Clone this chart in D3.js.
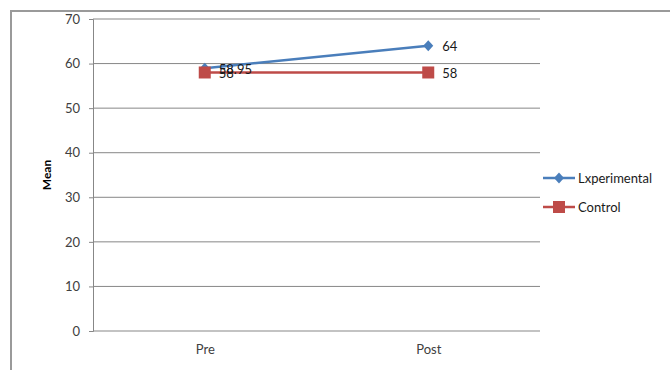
<!DOCTYPE html>
<html lang="en">
<head>
    <meta charset="UTF-8">
    <title>Mean Pre / Post</title>
    <script src="https://d3js.org/d3.v7.min.js"></script>
    <style>
        body { margin: 0; background: #fff; }
        svg { font-family: Lato, "Open Sans", sans-serif; }
    </style>
</head>
<body>
    <svg id="chart" width="670" height="370"></svg>

    <script>
        const categories = ["Pre", "Post"];
        const experimental = [58.95, 64];
        const control = [58, 58];
        const yTicks = [0, 10, 20, 30, 40, 50, 60, 70];
        const seriesNames = ["Lxperimental", "Control"];

        const svg = d3.select("#chart");
        const plot = { left: 93, right: 540, top: 19, bottom: 331 };

        // outer chart border (only left and top visible in the picture)
        svg.append("path")
            .attr("d", "M11,370 V11 H670")
            .attr("fill", "none")
            .attr("stroke", "#9a9a9a")
            .attr("stroke-width", 2);

        const x = d3.scalePoint()
            .domain(categories)
            .range([plot.left, plot.right])
            .padding(0.5);

        const y = d3.scaleLinear()
            .domain([0, 70])
            .range([plot.bottom, plot.top]);

        // gridlines
        svg.append("g")
            .selectAll("line")
            .data(yTicks.filter(t => t > 0))
            .enter().append("line")
            .attr("x1", plot.left)
            .attr("x2", plot.right)
            .attr("y1", d => y(d))
            .attr("y2", d => y(d))
            .attr("stroke", "#878787")
            .attr("stroke-width", 1);

        // y axis
        const yAxis = svg.append("g")
            .attr("transform", `translate(${plot.left},0)`)
            .call(d3.axisLeft(y).tickValues(yTicks).tickSize(4).tickPadding(9));
        yAxis.select(".domain").attr("stroke", "#878787");
        yAxis.selectAll(".tick line").attr("stroke", "#878787");
        yAxis.selectAll("text")
            .attr("font-size", "13px")
            .attr("fill", "#404040")
            .style("font-family", "Lato, 'Open Sans', sans-serif");

        // x axis
        const xAxis = svg.append("g")
            .attr("transform", `translate(0,${plot.bottom})`)
            .call(d3.axisBottom(x).tickSize(0).tickPadding(14));
        xAxis.select(".domain").attr("stroke", "#878787").attr("d", `M${plot.left},0H${plot.right}`);
        xAxis.selectAll("text")
            .attr("font-size", "13px")
            .attr("fill", "#404040")
            .style("font-family", "Lato, 'Open Sans', sans-serif");

        // y axis title
        svg.append("text")
            .attr("transform", `translate(51,${(plot.top + plot.bottom) / 2}) rotate(-90)`)
            .attr("text-anchor", "middle")
            .attr("font-size", "12px")
            .attr("font-weight", "bold")
            .text("Mean");

        const line = d3.line()
            .x((d, i) => x(categories[i]))
            .y(d => y(d));

        const series = [
            { name: seriesNames[0], values: experimental, color: "#4A7EBB", marker: "diamond" },
            { name: seriesNames[1], values: control, color: "#BE4B48", marker: "square" }
        ];

        function drawMarker(g, type, cx, cy, color) {
            if (type === "diamond") {
                g.append("path")
                    .attr("d", `M${cx},${cy - 5.5}L${cx + 5},${cy}L${cx},${cy + 5.5}L${cx - 5},${cy}Z`)
                    .attr("fill", color);
            } else {
                g.append("rect")
                    .attr("x", cx - 6)
                    .attr("y", cy - 6)
                    .attr("width", 12)
                    .attr("height", 12)
                    .attr("fill", color);
            }
        }

        // lines + markers
        series.forEach(s => {
            const g = svg.append("g");
            g.append("path")
                .datum(s.values)
                .attr("d", line)
                .attr("fill", "none")
                .attr("stroke", s.color)
                .attr("stroke-width", 2.5);
            s.values.forEach((v, i) => drawMarker(g, s.marker, x(categories[i]), y(v), s.color));
        });

        // data labels (the two Pre labels sit on top of each other, as in the original)
        series.forEach(s => {
            svg.append("g")
                .selectAll("text")
                .data(s.values)
                .enter().append("text")
                .attr("x", (d, i) => x(categories[i]) + 14)
                .attr("y", d => y(d) + 1)
                .attr("dy", "0.35em")
                .attr("font-size", "13px")
                .attr("fill", "#1a1a1a")
                .text(d => d);
        });

        // legend
        const legend = svg.append("g").attr("transform", "translate(543,178)");
        series.forEach((s, i) => {
            const row = legend.append("g").attr("transform", `translate(0,${i * 29})`);
            row.append("line")
                .attr("x1", 0).attr("x2", 32)
                .attr("y1", 0).attr("y2", 0)
                .attr("stroke", s.color)
                .attr("stroke-width", 2.5);
            drawMarker(row, s.marker, 16, 0, s.color);
            row.append("text")
                .attr("x", 35)
                .attr("y", 0)
                .attr("dy", "0.35em")
                .attr("font-size", "13px")
                .attr("fill", "#1a1a1a")
                .text(s.name);
        });
    </script>
</body>
</html>
